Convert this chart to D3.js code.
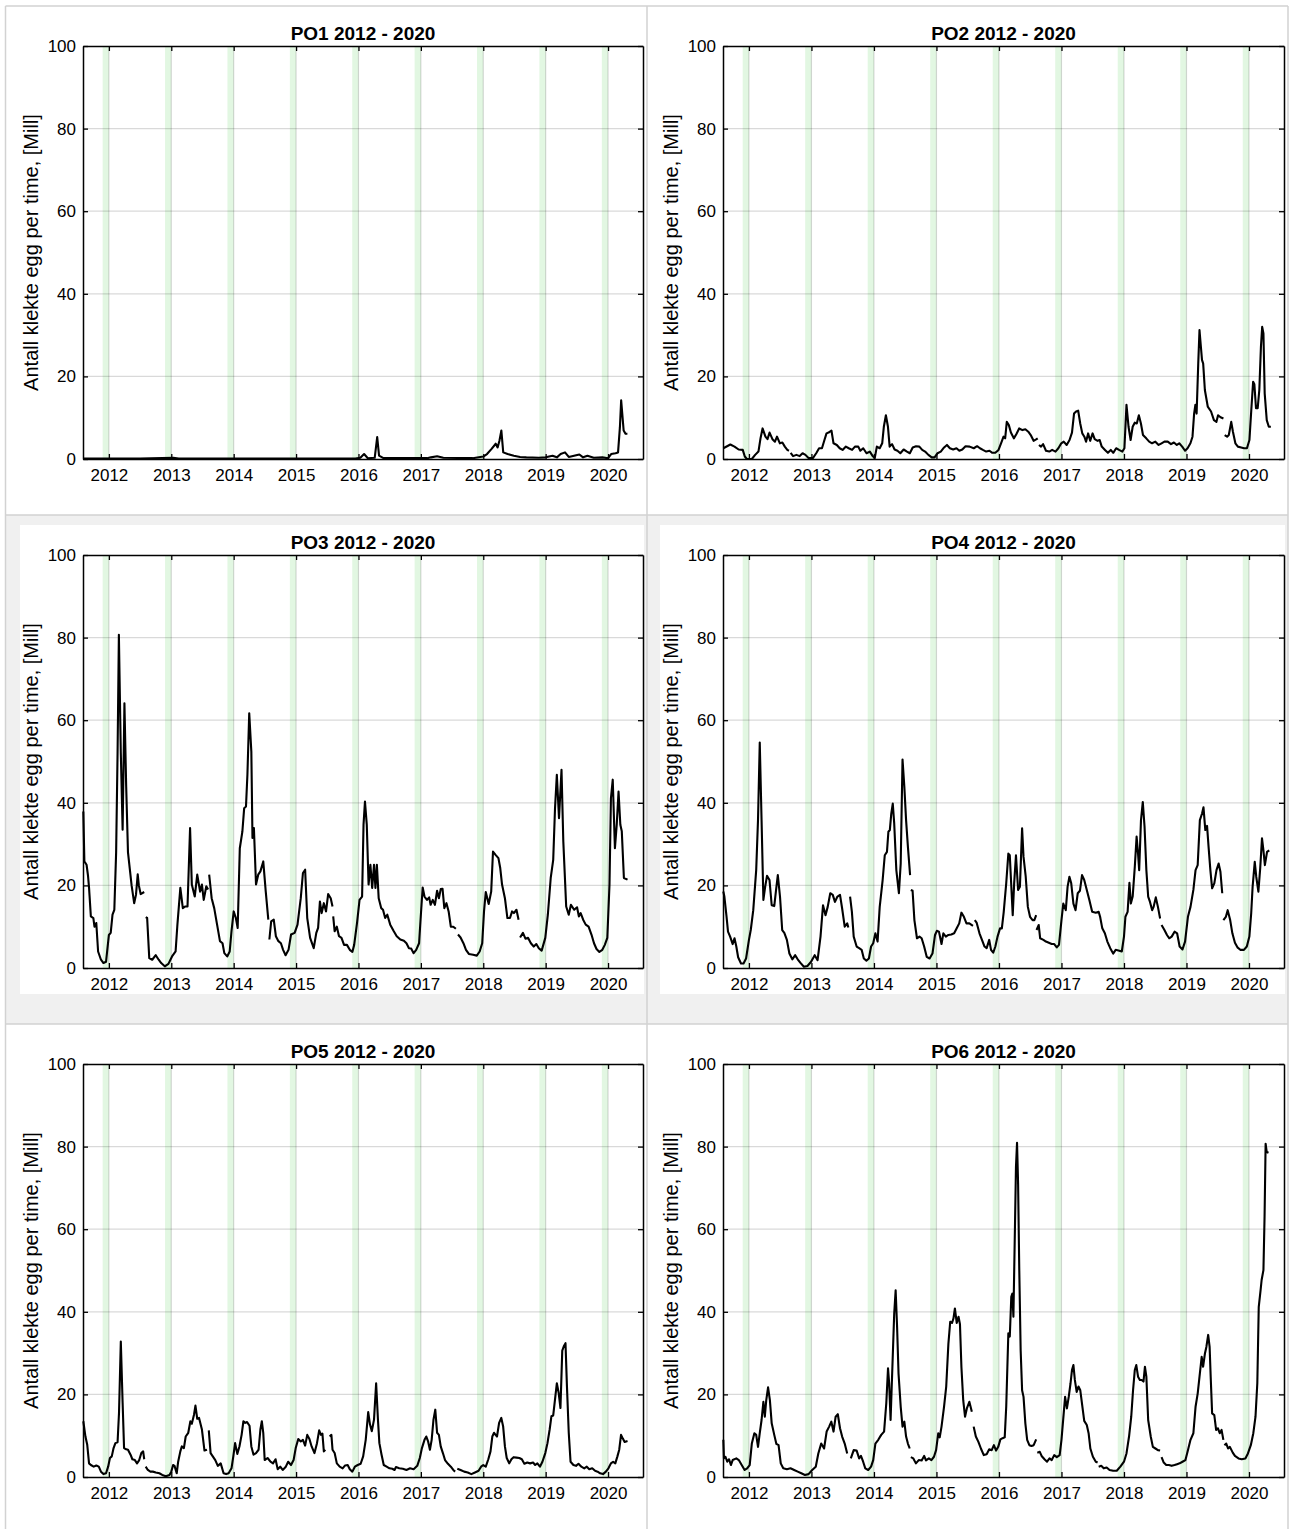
<!DOCTYPE html>
<html>
<head>
<meta charset="utf-8">
<script src="https://cdn.jsdelivr.net/npm/d3@7"></script>
<style>
  body { margin: 0; background: #fff; }
  svg { display: block; }
  text { font-family: "Liberation Sans", Arial, Helvetica, sans-serif; fill: #000; }
</style>
</head>
<body>
<svg id="chart" width="1289" height="1529"></svg>
<script>
// tick values and titles
const yearTicks = [2012, 2013, 2014, 2015, 2016, 2017, 2018, 2019, 2020];
const yTicks = [0, 20, 40, 60, 80, 100];
const titles = ["PO1 2012 - 2020", "PO2 2012 - 2020", "PO3 2012 - 2020",
                "PO4 2012 - 2020", "PO5 2012 - 2020", "PO6 2012 - 2020"];
const yLabel = "Antall klekte egg per time, [Mill]";

// series: [decimal year, value], null = missing data (gap in line)
const po1 = [[2011.59,0.1],[2012.5,0.1],[2013.03,0.3],[2013.12,0.1],[2015.95,0.1],[2016.03,0.3],[2016.09,1.2],[2016.15,0.2],[2016.26,0.3],[2016.30,5.3],[2016.33,0.8],[2016.4,0.2],[2017.1,0.2],[2017.16,0.4],[2017.26,0.65],[2017.36,0.3],[2017.83,0.2],[2018.0,0.6],[2018.06,1.2],[2018.13,2.4],[2018.2,3.7],[2018.23,2.8],[2018.26,4.5],[2018.29,6.9],[2018.32,1.6],[2018.39,1.2],[2018.49,0.8],[2018.59,0.5],[2018.69,0.4],[2018.89,0.3],[2019.0,0.4],[2019.11,0.8],[2019.18,0.4],[2019.24,1.2],[2019.31,1.6],[2019.37,0.5],[2019.54,1.1],[2019.6,0.4],[2019.67,0.8],[2019.77,0.3],[2019.91,0.4],[2020.0,0.2],[2020.05,1.2],[2020.12,1.4],[2020.16,1.6],[2020.19,7.7],[2020.21,14.2],[2020.25,6.9],[2020.28,6.1],[2020.31,6.1]];

const po2 = [[2011.59,2.6],[2011.703,3.5],[2011.769,3],[2011.835,2.3],[2011.901,2.2],[2011.934,0.6],[2011.967,0],[2012.046,0],[2012.099,1],[2012.152,1.8],[2012.185,5],[2012.218,7.4],[2012.264,5.4],[2012.297,4.8],[2012.33,6.4],[2012.376,4.8],[2012.416,4.2],[2012.449,5.4],[2012.495,3.8],[2012.535,4],[2012.574,3],[2012.614,2.2],[2012.64,2],[2012.653,null],[2012.667,1.5],[2012.706,0.7],[2012.759,1],[2012.812,0.7],[2012.858,1.4],[2012.904,1],[2012.957,0.2],[2013.023,0.2],[2013.076,1.4],[2013.122,2.6],[2013.168,2.6],[2013.208,4.6],[2013.241,6.2],[2013.274,6.4],[2013.32,6.9],[2013.353,3.8],[2013.406,3.4],[2013.452,2.6],[2013.498,2.2],[2013.551,3],[2013.597,2.6],[2013.65,2.2],[2013.696,3],[2013.749,3],[2013.782,2],[2013.828,2.6],[2013.881,1.4],[2013.934,1.8],[2013.98,0.7],[2014.013,0.2],[2014.046,3],[2014.092,2.6],[2014.132,3.8],[2014.158,7.8],[2014.191,10.6],[2014.224,7.8],[2014.251,3],[2014.29,3.6],[2014.33,2.3],[2014.376,2],[2014.422,1.4],[2014.475,2.3],[2014.528,1.8],[2014.574,1.4],[2014.62,2.8],[2014.673,3.1],[2014.726,3],[2014.772,2.2],[2014.818,1.8],[2014.871,1],[2014.924,0.4],[2014.97,0.4],[2015.017,1.4],[2015.069,1.8],[2015.122,2.8],[2015.168,3.4],[2015.215,2.6],[2015.267,2.3],[2015.32,2.6],[2015.366,2],[2015.413,2.3],[2015.465,3.1],[2015.531,3],[2015.597,2.6],[2015.65,3.1],[2015.696,2.6],[2015.743,2.2],[2015.795,1.8],[2015.848,2],[2015.894,1.5],[2015.941,1.5],[2015.993,2.2],[2016.033,3.8],[2016.073,5.4],[2016.099,5],[2016.125,9],[2016.158,8.2],[2016.191,6.4],[2016.238,5],[2016.277,6],[2016.323,7.4],[2016.376,7],[2016.422,7.2],[2016.469,6.6],[2016.508,5.8],[2016.554,4.4],[2016.601,4.8],[2016.62,5],[2016.63,null],[2016.64,3.4],[2016.673,3],[2016.706,3.6],[2016.752,2],[2016.805,1.8],[2016.851,2.2],[2016.904,1.8],[2016.95,2.6],[2016.997,3.8],[2017.036,4.2],[2017.083,3.4],[2017.129,4.6],[2017.168,6.4],[2017.201,11],[2017.234,11.5],[2017.267,11.7],[2017.3,8.6],[2017.333,6.2],[2017.366,5.4],[2017.393,4.2],[2017.426,6.2],[2017.459,4.4],[2017.498,6.2],[2017.531,4.8],[2017.578,4.4],[2017.611,4.6],[2017.644,3],[2017.696,2.2],[2017.743,1.5],[2017.789,2.2],[2017.828,1.5],[2017.875,2.6],[2017.921,2.2],[2017.974,1.8],[2018.007,2.6],[2018.04,13.1],[2018.073,7.8],[2018.106,4.6],[2018.139,7.8],[2018.172,8.8],[2018.205,8.6],[2018.238,10.6],[2018.271,8.6],[2018.304,5.8],[2018.356,5],[2018.403,4.2],[2018.449,3.8],[2018.502,4.2],[2018.554,3.4],[2018.601,3.8],[2018.647,4.2],[2018.7,4.2],[2018.752,3.6],[2018.799,4],[2018.845,3.4],[2018.884,3.8],[2018.931,3],[2018.977,2],[2019.017,2.6],[2019.063,3.8],[2019.096,5.4],[2019.122,11],[2019.142,13.1],[2019.162,11],[2019.188,23.1],[2019.208,31.2],[2019.228,27.6],[2019.248,24],[2019.267,23.1],[2019.294,16.7],[2019.34,12.7],[2019.393,11.5],[2019.439,9.4],[2019.479,9],[2019.505,10.6],[2019.545,10.1],[2019.591,9.8],[2019.601,null],[2019.611,5.8],[2019.65,5.4],[2019.677,5.8],[2019.716,9],[2019.743,6.6],[2019.782,3.8],[2019.822,3],[2019.875,2.8],[2019.921,2.6],[2019.967,2.6],[2020.007,4.6],[2020.033,11],[2020.066,18.7],[2020.086,18.1],[2020.112,12.3],[2020.139,12.3],[2020.165,16.7],[2020.191,27.2],[2020.211,32],[2020.231,30.4],[2020.251,15.9],[2020.284,9.4],[2020.317,7.8],[2020.35,7.8]];

const po3 = [[2011.59,37.9],[2011.607,25.8],[2011.642,25],[2011.665,22.4],[2011.682,19.4],[2011.711,12.5],[2011.751,12.1],[2011.769,10],[2011.798,10.9],[2011.827,4],[2011.873,2],[2011.913,1.2],[2011.954,1.5],[2012,8],[2012.029,8.5],[2012.058,12.9],[2012.087,14.1],[2012.116,28],[2012.139,52],[2012.16,80.7],[2012.191,52],[2012.22,33.5],[2012.249,64.1],[2012.277,44],[2012.306,28],[2012.335,24],[2012.364,20],[2012.405,15.7],[2012.434,17.7],[2012.462,22.7],[2012.48,20],[2012.509,17.9],[2012.566,18.4],[2012.578,null],[2012.59,12.3],[2012.613,12.1],[2012.647,2.4],[2012.694,2],[2012.751,3.1],[2012.798,2],[2012.838,1.2],[2012.896,0.4],[2012.954,1],[2013.012,2.8],[2013.069,4],[2013.098,10.5],[2013.145,19.4],[2013.185,14.5],[2013.225,14.9],[2013.26,14.9],[2013.301,33.9],[2013.329,20.2],[2013.376,17.3],[2013.416,22.6],[2013.462,18.5],[2013.491,20.2],[2013.52,16.5],[2013.561,19.8],[2013.59,19],[2013.598,null],[2013.607,22.6],[2013.647,16.9],[2013.688,14.5],[2013.734,10.5],[2013.78,6.5],[2013.821,6],[2013.85,3.6],[2013.896,2.8],[2013.936,4],[2013.965,8.9],[2014,13.7],[2014.035,12.1],[2014.064,9.7],[2014.098,29],[2014.139,33],[2014.168,38.7],[2014.197,39.1],[2014.22,46.8],[2014.249,61.7],[2014.283,52.4],[2014.301,31.5],[2014.324,33.9],[2014.358,20.2],[2014.393,22.6],[2014.428,23.4],[2014.474,25.8],[2014.514,18.5],[2014.555,11.7],[2014.563,null],[2014.572,6.9],[2014.601,11.3],[2014.642,11.7],[2014.676,7.7],[2014.717,6.5],[2014.757,6],[2014.792,4.4],[2014.832,3.1],[2014.879,4.4],[2014.919,8.1],[2014.977,8.5],[2015.023,10.5],[2015.075,16.9],[2015.11,23],[2015.145,23.8],[2015.179,12.1],[2015.225,7.3],[2015.283,4.8],[2015.324,8.5],[2015.353,9.7],[2015.382,16.1],[2015.41,13.3],[2015.445,15.7],[2015.48,13.7],[2015.514,17.9],[2015.555,16.9],[2015.584,14.9],[2015.59,null],[2015.595,12.5],[2015.618,8.9],[2015.653,10],[2015.688,7.7],[2015.728,7.3],[2015.769,5.6],[2015.815,5.6],[2015.861,4.4],[2015.902,3.9],[2015.931,5.6],[2015.977,10.9],[2016.017,16.5],[2016.058,17.3],[2016.081,34.7],[2016.104,40.3],[2016.133,34.7],[2016.162,20.2],[2016.191,25],[2016.22,19.4],[2016.249,25],[2016.272,19.4],[2016.295,25],[2016.324,16.9],[2016.364,14.5],[2016.393,14.1],[2016.428,12.1],[2016.462,12.9],[2016.509,10.5],[2016.566,8.9],[2016.613,7.7],[2016.671,6.9],[2016.728,6.6],[2016.769,6],[2016.809,4.8],[2016.844,4.7],[2016.884,3.6],[2016.925,4.4],[2016.971,6],[2017,12.9],[2017.029,19.5],[2017.058,17.3],[2017.098,16.5],[2017.133,17.1],[2017.156,15.3],[2017.191,16.5],[2017.225,15.3],[2017.26,18.7],[2017.289,16.9],[2017.318,19.1],[2017.347,19.2],[2017.376,14.5],[2017.41,15.7],[2017.445,13.7],[2017.48,10],[2017.52,10],[2017.561,9.5],[2017.578,null],[2017.595,8.1],[2017.636,7.4],[2017.682,6],[2017.723,4.4],[2017.769,3.4],[2017.838,3.2],[2017.896,3],[2017.942,4],[2017.983,6],[2018.012,13.7],[2018.04,18.4],[2018.087,15.5],[2018.127,18.5],[2018.156,28.2],[2018.197,27.4],[2018.243,26.6],[2018.272,24.2],[2018.301,20.2],[2018.347,16.9],[2018.387,12.1],[2018.428,12.1],[2018.462,13.7],[2018.491,13.3],[2018.532,14.1],[2018.566,11.7],[2018.578,null],[2018.59,7.4],[2018.636,8.5],[2018.676,7.1],[2018.717,7.3],[2018.763,6],[2018.809,5.2],[2018.85,5.8],[2018.89,4.8],[2018.936,4.2],[2018.994,7.3],[2019.035,12.9],[2019.081,21.8],[2019.121,26.2],[2019.15,38.7],[2019.179,46.8],[2019.214,36.3],[2019.254,48],[2019.283,30.6],[2019.329,14.9],[2019.37,12.9],[2019.405,15.3],[2019.457,14.1],[2019.503,14.7],[2019.532,12.5],[2019.561,13.3],[2019.601,11.7],[2019.642,10.5],[2019.688,10],[2019.734,8.1],[2019.775,6],[2019.815,4.6],[2019.861,3.9],[2019.908,4.4],[2019.948,5.6],[2019.988,7.3],[2020.023,20.2],[2020.046,41.1],[2020.075,45.6],[2020.11,29],[2020.139,34.7],[2020.168,42.7],[2020.197,34.7],[2020.22,33.1],[2020.254,21.8],[2020.312,21.4]];

const po4 = [[2011.59,18.5],[2011.607,17.3],[2011.642,12.4],[2011.665,8.8],[2011.699,7.6],[2011.74,5.8],[2011.769,7.2],[2011.798,5.2],[2011.827,2.6],[2011.873,1.1],[2011.913,1.1],[2011.954,2.3],[2012,6.8],[2012.029,9.2],[2012.069,14],[2012.116,23.7],[2012.145,35.8],[2012.173,54.6],[2012.202,35.8],[2012.231,16.5],[2012.26,19.7],[2012.289,22.3],[2012.329,21.3],[2012.364,15.2],[2012.405,15],[2012.434,18.9],[2012.462,22.5],[2012.497,17.3],[2012.532,9.2],[2012.566,8.5],[2012.607,6.8],[2012.647,3.5],[2012.694,2.1],[2012.74,3.1],[2012.78,2.1],[2012.821,1.3],[2012.879,0.3],[2012.936,0.5],[2012.994,1.5],[2013.052,3.1],[2013.098,1.9],[2013.145,7.6],[2013.185,15.2],[2013.225,12.8],[2013.26,14.8],[2013.301,18.1],[2013.341,17.7],[2013.376,16],[2013.416,17.3],[2013.457,17.7],[2013.491,14.4],[2013.532,10],[2013.572,10.8],[2013.59,9.8],[2013.604,null],[2013.618,17.3],[2013.647,13.6],[2013.676,7.6],[2013.723,5.2],[2013.763,4.8],[2013.803,4.4],[2013.838,2.3],[2013.879,1.8],[2013.919,2.3],[2013.954,5.2],[2013.988,6],[2014.023,8.4],[2014.058,6.4],[2014.092,14.8],[2014.139,21.3],[2014.173,27.3],[2014.208,28.1],[2014.231,33],[2014.254,33.4],[2014.277,37.4],[2014.301,39.8],[2014.324,35],[2014.358,23.7],[2014.399,18.1],[2014.428,25.3],[2014.457,50.5],[2014.486,43.9],[2014.514,35.8],[2014.543,29.4],[2014.578,22.5],[2014.584,null],[2014.59,18.9],[2014.618,18.7],[2014.647,11.6],[2014.688,7.2],[2014.728,7.6],[2014.763,7.2],[2014.803,5.2],[2014.844,2.7],[2014.89,2.3],[2014.936,3.5],[2014.977,8],[2015.006,9],[2015.04,8.8],[2015.081,5.8],[2015.11,8.4],[2015.15,7.6],[2015.191,8],[2015.237,8.1],[2015.283,8.4],[2015.324,9.6],[2015.364,10.8],[2015.399,13.4],[2015.439,12.4],[2015.48,10.8],[2015.526,10.8],[2015.584,10.2],[2015.598,null],[2015.613,11.6],[2015.642,11],[2015.688,8.4],[2015.728,6.8],[2015.769,5.2],[2015.803,4.8],[2015.844,6.8],[2015.873,4.4],[2015.908,3.7],[2015.942,5.2],[2015.977,7.6],[2016.017,9.6],[2016.046,9.6],[2016.075,13.4],[2016.116,20.5],[2016.15,27.7],[2016.173,27.3],[2016.22,12.8],[2016.243,20.5],[2016.272,27.3],[2016.306,18.9],[2016.335,19.7],[2016.37,33.8],[2016.393,26.9],[2016.428,22.1],[2016.462,14.8],[2016.497,12.4],[2016.538,11.6],[2016.566,11.6],[2016.595,12.8],[2016.598,null],[2016.601,9.2],[2016.636,10.4],[2016.659,7.2],[2016.711,6.8],[2016.751,6.4],[2016.798,6.1],[2016.844,5.8],[2016.884,5.8],[2016.925,5],[2016.96,5.6],[2017,11.6],[2017.029,15.6],[2017.069,14],[2017.098,19.7],[2017.127,22.1],[2017.156,20.5],[2017.191,15.6],[2017.225,14],[2017.26,18.1],[2017.295,18.7],[2017.329,22.5],[2017.364,21.3],[2017.405,18.9],[2017.445,16.5],[2017.491,13.6],[2017.549,13.4],[2017.595,13.6],[2017.618,12.4],[2017.653,9.6],[2017.694,8.4],[2017.734,6.4],[2017.78,4.8],[2017.827,3.5],[2017.867,4.4],[2017.925,4.2],[2017.965,4],[2018,7.6],[2018.023,12.4],[2018.058,13.6],[2018.087,20.6],[2018.11,15.6],[2018.139,17.3],[2018.173,24.5],[2018.202,31.8],[2018.225,27.7],[2018.243,23.7],[2018.272,35.8],[2018.301,40.2],[2018.329,34.2],[2018.358,23.7],[2018.387,17.3],[2018.416,16],[2018.451,14],[2018.474,14.8],[2018.509,17.1],[2018.543,14.8],[2018.578,12],[2018.59,null],[2018.601,10.4],[2018.647,9.2],[2018.688,8],[2018.723,7.2],[2018.763,7.6],[2018.809,8.8],[2018.85,8.4],[2018.89,5.2],[2018.936,4.5],[2018.977,6.4],[2019.023,12.4],[2019.064,14.8],[2019.11,18.9],[2019.145,23.7],[2019.179,24.9],[2019.214,35.8],[2019.249,37.4],[2019.272,38.9],[2019.301,33.4],[2019.329,34.4],[2019.353,29.4],[2019.382,23.7],[2019.41,19.3],[2019.445,20.5],[2019.48,23.7],[2019.514,25.3],[2019.543,23.3],[2019.572,18.1],[2019.581,null],[2019.59,11.6],[2019.63,12.4],[2019.659,14],[2019.699,11.6],[2019.734,8.4],[2019.775,6.1],[2019.815,5],[2019.861,4.4],[2019.919,4.4],[2019.965,5.2],[2020.006,7.6],[2020.035,13.2],[2020.058,19.7],[2020.092,25.7],[2020.116,22.1],[2020.15,18.5],[2020.179,24.1],[2020.208,31.4],[2020.231,28.5],[2020.254,24.9],[2020.289,28.1],[2020.324,28.5]];

const po5 = [[2011.59,13.5],[2011.624,9.8],[2011.653,7.8],[2011.682,3.3],[2011.711,2.9],[2011.757,2.5],[2011.798,2.8],[2011.838,2.5],[2011.873,1.3],[2011.913,0.7],[2011.954,0.9],[2011.988,2.5],[2012.017,4.6],[2012.046,5],[2012.075,7],[2012.104,8.2],[2012.139,8.4],[2012.162,15.5],[2012.191,32.8],[2012.22,18],[2012.243,7],[2012.277,6.7],[2012.306,6.6],[2012.347,5.4],[2012.376,4.3],[2012.416,4.1],[2012.451,3.3],[2012.486,4.1],[2012.52,5.8],[2012.549,6.2],[2012.566,4.3],[2012.578,null],[2012.59,2.5],[2012.624,1.7],[2012.665,1.3],[2012.705,1.3],[2012.751,1.1],[2012.809,0.9],[2012.855,0.5],[2012.913,0.2],[2012.971,0.5],[2013,1.3],[2013.029,2.9],[2013.052,2.7],[2013.087,0.9],[2013.11,3.7],[2013.145,6.2],[2013.168,7.4],[2013.202,7],[2013.231,9.8],[2013.272,10.7],[2013.306,13.5],[2013.329,12.9],[2013.364,15.1],[2013.387,17.3],[2013.416,14.1],[2013.445,14.3],[2013.491,11.5],[2013.532,6.4],[2013.572,6.6],[2013.587,null],[2013.601,11.3],[2013.63,5.8],[2013.665,5],[2013.705,4.1],[2013.746,2.7],[2013.792,3.3],[2013.838,0.9],[2013.879,0.7],[2013.919,0.9],[2013.965,2.1],[2013.994,5],[2014.023,8.2],[2014.058,5.6],[2014.092,7.4],[2014.127,10.2],[2014.156,13.5],[2014.185,13.1],[2014.214,13.3],[2014.254,12.4],[2014.283,7.4],[2014.318,5.4],[2014.358,5.8],[2014.399,6.6],[2014.428,11.5],[2014.451,13.5],[2014.474,10.7],[2014.497,4.1],[2014.543,4.6],[2014.59,3.7],[2014.63,3.3],[2014.671,4.3],[2014.705,1.9],[2014.746,2.5],[2014.786,1.7],[2014.832,2.4],[2014.873,3.7],[2014.919,2.9],[2014.96,4.1],[2014.994,7],[2015.035,9.2],[2015.075,8.6],[2015.11,9],[2015.145,7.6],[2015.179,10.2],[2015.214,9.2],[2015.249,7.4],[2015.295,5.8],[2015.335,8.2],[2015.37,11.3],[2015.399,10.2],[2015.422,10.5],[2015.445,6.2],[2015.468,6.6],[2015.5,null],[2015.538,9.8],[2015.566,10.2],[2015.584,6.6],[2015.618,5.8],[2015.653,3.3],[2015.699,2.5],[2015.746,2.1],[2015.786,2.8],[2015.827,2.9],[2015.861,1.9],[2015.902,1.3],[2015.942,2.5],[2015.988,2.9],[2016.035,3.2],[2016.075,5],[2016.116,9],[2016.156,15.7],[2016.185,12.7],[2016.214,11.1],[2016.249,13.9],[2016.283,22.7],[2016.312,13.9],[2016.335,8.2],[2016.37,5.4],[2016.405,2.9],[2016.451,2.5],[2016.497,2.1],[2016.543,2],[2016.578,1.7],[2016.601,2.4],[2016.653,2.1],[2016.711,2],[2016.769,1.7],[2016.827,2.1],[2016.884,1.9],[2016.942,2.7],[2016.983,4.6],[2017.017,7],[2017.058,9],[2017.087,9.8],[2017.116,8.6],[2017.145,6.6],[2017.173,9],[2017.202,13.9],[2017.231,16.3],[2017.26,10.7],[2017.289,10.2],[2017.318,7.4],[2017.353,5.8],[2017.387,4.1],[2017.434,3.2],[2017.48,2.5],[2017.52,1.7],[2017.549,1.3],[2017.566,null],[2017.584,2],[2017.636,1.7],[2017.694,1.3],[2017.751,1.1],[2017.809,0.7],[2017.867,1.1],[2017.925,1.5],[2017.965,2.5],[2018,2.9],[2018.04,2.5],[2018.081,4.3],[2018.116,6.2],[2018.145,9.8],[2018.173,10.7],[2018.197,10.2],[2018.22,9.8],[2018.254,13.1],[2018.289,14.3],[2018.318,12.3],[2018.347,7.4],[2018.376,4.6],[2018.416,3.3],[2018.451,4.3],[2018.486,4.8],[2018.532,4.7],[2018.578,4.6],[2018.618,4.3],[2018.659,3.2],[2018.705,3.5],[2018.751,3.3],[2018.798,3.5],[2018.832,2.9],[2018.867,3.3],[2018.908,2.5],[2018.948,3.7],[2018.994,5.8],[2019.029,8.2],[2019.064,11.5],[2019.092,14.7],[2019.121,14.9],[2019.15,18.8],[2019.179,22.7],[2019.208,20.4],[2019.237,16.7],[2019.266,30.6],[2019.295,31.8],[2019.318,32.4],[2019.341,22],[2019.37,10.7],[2019.399,3.7],[2019.445,2.9],[2019.486,2.7],[2019.526,3.2],[2019.572,2.5],[2019.618,2.1],[2019.659,2.5],[2019.699,1.9],[2019.746,2.1],[2019.792,1.5],[2019.832,1.3],[2019.873,0.9],[2019.919,0.7],[2019.965,1.3],[2020.006,2.1],[2020.046,3.3],[2020.081,3.7],[2020.116,3.3],[2020.15,5],[2020.179,6.6],[2020.208,10.2],[2020.237,9.3],[2020.266,8.5],[2020.312,8.7]];

const po6 = [[2011.59,9],[2011.6,4.5],[2011.624,4.9],[2011.653,3.7],[2011.682,4.3],[2011.711,2.9],[2011.74,4.1],[2011.798,4.5],[2011.838,4.1],[2011.884,2.9],[2011.931,1.7],[2011.971,2.1],[2012.012,2.9],[2012.046,8.1],[2012.087,10.6],[2012.116,10.2],[2012.145,7.3],[2012.173,10.6],[2012.202,13.8],[2012.231,18.2],[2012.254,14.6],[2012.277,18.6],[2012.306,21.7],[2012.335,18.6],[2012.364,13],[2012.405,10.2],[2012.439,8],[2012.474,7.7],[2012.509,3.3],[2012.549,2.1],[2012.607,1.9],[2012.665,2.1],[2012.723,1.7],[2012.78,1.3],[2012.838,0.9],[2012.896,0.5],[2012.954,0.7],[2013.012,1.7],[2013.069,2.5],[2013.11,5.7],[2013.156,8.1],[2013.202,6.9],[2013.243,11],[2013.283,12.2],[2013.318,13.4],[2013.353,11],[2013.387,14.6],[2013.422,15.2],[2013.457,11.8],[2013.491,9.8],[2013.532,8.1],[2013.572,5.7],[2013.6,null],[2013.63,4.5],[2013.676,6.5],[2013.723,6.4],[2013.763,4.5],[2013.792,5.1],[2013.827,3.7],[2013.861,2.1],[2013.908,1.7],[2013.954,2.5],[2013.988,4.1],[2014.023,8.1],[2014.069,9],[2014.116,10.2],[2014.162,11],[2014.197,17.8],[2014.225,26.3],[2014.243,22.7],[2014.266,13.8],[2014.295,26.7],[2014.324,39.6],[2014.347,45.2],[2014.37,36.4],[2014.393,25.1],[2014.428,17],[2014.457,12.2],[2014.486,13.4],[2014.514,9.8],[2014.543,8.1],[2014.572,6.9],[2014.581,null],[2014.59,4.8],[2014.63,4.5],[2014.671,3.3],[2014.717,4.1],[2014.763,4],[2014.803,5.1],[2014.832,4],[2014.879,4.5],[2014.919,4.1],[2014.96,4.9],[2014.994,6.5],[2015.029,10.6],[2015.052,9.6],[2015.081,12.2],[2015.121,17],[2015.156,21.9],[2015.191,32.3],[2015.22,37.6],[2015.249,37.3],[2015.272,38.4],[2015.295,40.8],[2015.324,37.3],[2015.353,38.8],[2015.376,37],[2015.399,26.7],[2015.428,18.6],[2015.457,14.6],[2015.486,16.6],[2015.526,18.2],[2015.566,15.8],[2015.58,null],[2015.595,12.2],[2015.63,9.8],[2015.671,8.5],[2015.711,6.9],[2015.757,5.3],[2015.803,5.5],[2015.844,6.7],[2015.884,6.5],[2015.919,7.7],[2015.954,6.4],[2015.988,7.3],[2016.023,9.1],[2016.058,9.4],[2016.092,9.6],[2016.116,17],[2016.15,34.8],[2016.173,34],[2016.197,43.6],[2016.214,44.4],[2016.231,38.8],[2016.254,59],[2016.272,75.1],[2016.289,80.9],[2016.306,71],[2016.324,50.9],[2016.347,30.7],[2016.37,21],[2016.393,19.4],[2016.422,13],[2016.451,9],[2016.486,7.7],[2016.52,7.5],[2016.555,7.7],[2016.595,9.1],[2016.604,null],[2016.613,5.9],[2016.653,6.1],[2016.682,5.1],[2016.728,4.3],[2016.769,3.7],[2016.809,4.5],[2016.844,4.1],[2016.884,5.3],[2016.925,4.8],[2016.971,5.3],[2017,9],[2017.029,14.2],[2017.058,19.4],[2017.087,16.6],[2017.116,19.4],[2017.145,22.7],[2017.168,25.9],[2017.191,27.1],[2017.214,23.5],[2017.243,20.6],[2017.272,21.9],[2017.301,21],[2017.335,17],[2017.364,13.6],[2017.405,12.6],[2017.434,10.6],[2017.462,6.9],[2017.503,4.9],[2017.549,3.7],[2017.578,3.5],[2017.586,null],[2017.595,2.5],[2017.636,2.7],[2017.676,2.1],[2017.723,2.3],[2017.769,1.7],[2017.827,1.5],[2017.884,1.5],[2017.942,2.5],[2018,3.7],[2018.04,5.7],[2018.081,9.8],[2018.116,14.6],[2018.145,21],[2018.173,25.9],[2018.197,27.1],[2018.225,24.3],[2018.254,23.5],[2018.283,23.5],[2018.312,23.1],[2018.335,26.7],[2018.358,24.3],[2018.387,13.8],[2018.428,9.8],[2018.462,7.3],[2018.503,6.9],[2018.543,6.5],[2018.578,6.4],[2018.59,null],[2018.601,4.8],[2018.636,3.5],[2018.676,2.9],[2018.717,2.9],[2018.763,2.7],[2018.809,2.9],[2018.85,3.1],[2018.89,3.3],[2018.936,3.7],[2018.983,4.1],[2019.023,6.5],[2019.064,9],[2019.11,10.6],[2019.145,17],[2019.179,20.2],[2019.214,25.1],[2019.243,29.1],[2019.266,26.7],[2019.295,29.9],[2019.318,31.5],[2019.347,34.4],[2019.37,31.5],[2019.387,24.3],[2019.41,15.4],[2019.445,15],[2019.474,11.4],[2019.503,11.8],[2019.532,10.6],[2019.561,11.4],[2019.59,9],[2019.598,null],[2019.607,7.7],[2019.636,8.1],[2019.665,6.9],[2019.694,7.3],[2019.74,5.9],[2019.775,5.1],[2019.832,4.5],[2019.884,4.3],[2019.942,4.5],[2019.983,5.7],[2020.029,7.7],[2020.069,10.6],[2020.104,14.6],[2020.133,22.7],[2020.156,41.2],[2020.185,45.2],[2020.202,47.7],[2020.231,50.1],[2020.249,63],[2020.266,80.7],[2020.283,78.7],[2020.312,78.5]];

const series = [po1, po2, po3, po4, po5, po6];

const svg = d3.select("#chart");

// page frame: grid of six images, middle row on grey
svg.append("rect").attr("x", 6).attr("y", 515).attr("width", 1282).attr("height", 509).attr("fill", "#f0f0f0");
svg.append("rect").attr("x", 20).attr("y", 525).attr("width", 624).attr("height", 469).attr("fill", "#fff");
svg.append("rect").attr("x", 660).attr("y", 525).attr("width", 625).attr("height", 469).attr("fill", "#fff");

const frame = svg.append("g").attr("stroke", "#d2d2d2").attr("stroke-width", 1.5);
[[5.5, 6, 5.5, 1529], [647, 6, 647, 1529], [1288, 6, 1288, 1529],
 [5.5, 6, 1288, 6], [5.5, 515, 1288, 515], [5.5, 1024, 1288, 1024]].forEach(l => {
  frame.append("line").attr("x1", l[0]).attr("y1", l[1]).attr("x2", l[2]).attr("y2", l[3]);
});

const cols = [{ l: 83, r: 643 }, { l: 723, r: 1284 }];
const rows = [{ t: 46, b: 459 }, { t: 555, b: 968 }, { t: 1064, b: 1477 }];

series.forEach((data, i) => {
  const c = cols[i % 2], r = rows[Math.floor(i / 2)];
  const x = d3.scaleLinear().domain([2011.585, 2020.56]).range([c.l, c.r]);
  const y = d3.scaleLinear().domain([0, 100]).range([r.b, r.t]);
  const g = svg.append("g");

  // green bands just before each new year
  g.selectAll(".band").data(yearTicks).join("rect")
    .attr("x", d => x(d - 0.1)).attr("width", d => x(d) - x(d - 0.1))
    .attr("y", r.t).attr("height", r.b - r.t)
    .attr("fill", "#e2f7e2");

  // grid
  g.selectAll(".vgrid").data(yearTicks).join("line")
    .attr("x1", d => x(d)).attr("x2", d => x(d)).attr("y1", r.t).attr("y2", r.b)
    .attr("stroke", "#000").attr("stroke-opacity", 0.15).attr("stroke-width", 1.2);
  g.selectAll(".hgrid").data(yTicks.slice(1, -1)).join("line")
    .attr("x1", c.l).attr("x2", c.r).attr("y1", d => y(d)).attr("y2", d => y(d))
    .attr("stroke", "#000").attr("stroke-opacity", 0.15).attr("stroke-width", 1.2);

  // data line with gaps
  const line = d3.line().defined(d => d[1] != null).x(d => x(d[0])).y(d => y(d[1]));
  g.append("path").datum(data).attr("d", line)
    .attr("fill", "none").attr("stroke", "#000").attr("stroke-width", 2.1)
    .attr("stroke-linejoin", "round");

  // axes, ticks pointing inward
  const fontSize = "17px";
  const bottom = g.append("g").attr("transform", `translate(0,${r.b})`)
    .call(d3.axisBottom(x).tickValues(yearTicks).tickFormat(d3.format("d"))
      .tickSizeInner(-5).tickSizeOuter(0).tickPadding(10));
  const left = g.append("g").attr("transform", `translate(${c.l},0)`)
    .call(d3.axisLeft(y).tickValues(yTicks).tickSizeInner(-5).tickSizeOuter(0).tickPadding(7));
  const top = g.append("g").attr("transform", `translate(0,${r.t})`)
    .call(d3.axisTop(x).tickValues(yearTicks).tickFormat("").tickSizeInner(-5).tickSizeOuter(0));
  const right = g.append("g").attr("transform", `translate(${c.r},0)`)
    .call(d3.axisRight(y).tickValues(yTicks).tickFormat("").tickSizeInner(-5).tickSizeOuter(0));
  [bottom, left, top, right].forEach(a => {
    a.select(".domain").attr("stroke", "#000").attr("stroke-width", 1.5);
    a.selectAll(".tick line").attr("stroke", "#000").attr("stroke-width", 1.3);
    a.selectAll("text").attr("font-size", fontSize)
      .attr("font-family", '"Liberation Sans", Arial, sans-serif').attr("fill", "#000");
  });

  // title
  g.append("text").attr("x", (c.l + c.r) / 2).attr("y", r.t - 6)
    .attr("text-anchor", "middle").attr("font-size", "19px").attr("font-weight", "bold")
    .text(titles[i]);

  // y axis label
  g.append("text")
    .attr("transform", `translate(${c.l - 45},${(r.t + r.b) / 2}) rotate(-90)`)
    .attr("text-anchor", "middle").attr("font-size", "20px")
    .text(yLabel);
});
</script>
</body>
</html>
